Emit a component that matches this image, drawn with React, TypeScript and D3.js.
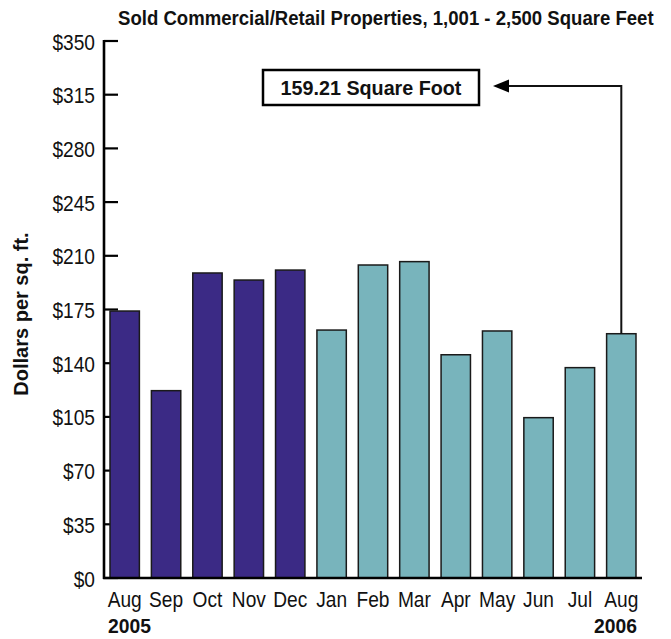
import React from "react";
import * as d3 from "d3";

const months = ["Aug", "Sep", "Oct", "Nov", "Dec", "Jan", "Feb", "Mar", "Apr", "May", "Jun", "Jul", "Aug"];
const years = [2005, 2005, 2005, 2005, 2005, 2006, 2006, 2006, 2006, 2006, 2006, 2006, 2006];
const values = [174.0, 122.1, 198.8, 194.2, 200.7, 161.6, 204.0, 206.2, 145.5, 161.0, 104.5, 137.1, 159.21];
const yTicks = [0, 35, 70, 105, 140, 175, 210, 245, 280, 315, 350];
const title = "Sold Commercial/Retail Properties, 1,001 - 2,500 Square Feet";
const annotation = "159.21 Square Foot";
const yLabel = "Dollars per sq. ft.";

const FONT = "'Liberation Sans', Arial, Helvetica, sans-serif";
const PURPLE = "#3b2a85";
const TEAL = "#78b4bc";

function T(props: { x: number; y: number; s?: number; size: number; bold?: boolean; anchor?: string; rot?: number; children: React.ReactNode }) {
  const { x, y, s = 1, size, bold, anchor = "start", rot = 0, children } = props;
  return (
    <text transform={`translate(${x},${y}) rotate(${rot}) scale(${s},1)`} fontSize={size}
      fontWeight={bold ? "bold" : "normal"} textAnchor={anchor} fill="#111">{children}</text>
  );
}

export default function App() {
  const W = 671, H = 639;
  const x = d3.scaleBand<number>().domain(d3.range(months.length)).range([104, 642]).paddingInner(0.29).paddingOuter(0.145);
  const y = d3.scaleLinear().domain([0, 350]).range([578, 41]);
  const last = months.length - 1;
  const ax = (x(last) as number) + x.bandwidth() / 2;
  const ay = y(values[last]);
  const lineY = 86;
  const tipX = 493;

  return (
    <svg width={W} height={H} style={{ position: "absolute", left: 0, top: 0, background: "#fff" }} fontFamily={FONT}>
      <T x={118} y={25} size={21} bold s={0.885}>{title}</T>
      {yTicks.map((t) => (
        <line key={t} x1={104} x2={118} y1={y(t)} y2={y(t)} stroke="#000" strokeWidth={2.2} />
      ))}
      {yTicks.map((t) => (
        <T key={t} x={95} y={y(t) + 8.5} size={22} s={0.87} anchor="end">{"$" + t}</T>
      ))}
      {values.map((v, i) => (
        <rect key={i} x={x(i)} y={y(v)} width={x.bandwidth()} height={578 - y(v)}
          fill={years[i] === 2005 ? PURPLE : TEAL} stroke="#1a1a1a" strokeWidth={1.5} />
      ))}
      <line x1={104} x2={104} y1={40} y2={579} stroke="#000" strokeWidth={2.6} />
      <line x1={103} x2={642} y1={578} y2={578} stroke="#000" strokeWidth={2.6} />
      {months.map((m, i) => (
        <T key={i} x={(x(i) as number) + x.bandwidth() / 2} y={607} size={22} s={0.87} anchor="middle">{m}</T>
      ))}
      <T x={108} y={633} size={21} bold s={0.92}>2005</T>
      <T x={637} y={633} size={21} bold s={0.92} anchor="end">2006</T>
      <T x={28} y={314} size={20} bold rot={-90} anchor="middle">{yLabel}</T>
      <path d={`M${ax},${ay} V${lineY} H${tipX + 14}`} fill="none" stroke="#111" strokeWidth={2} />
      <polygon points={`${tipX},${lineY} ${tipX + 16},${lineY - 6.5} ${tipX + 16},${lineY + 6.5}`} fill="#000" />
      <rect x={263} y={70} width={216} height={35} fill="#fff" stroke="#000" strokeWidth={2.5} />
      <T x={371} y={95} size={21} bold s={0.94} anchor="middle">{annotation}</T>
    </svg>
  );
}
